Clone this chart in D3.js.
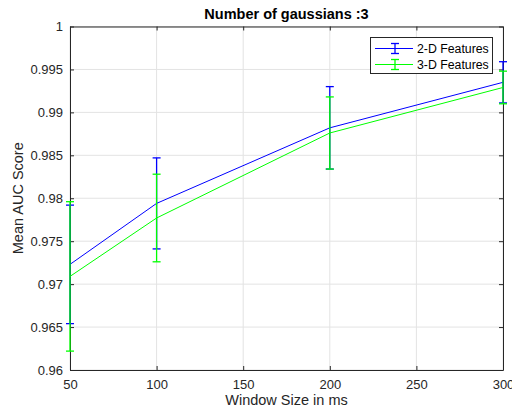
<!DOCTYPE html>
<html>
<head>
<meta charset="utf-8">
<script src="https://cdn.jsdelivr.net/npm/d3@7"></script>
<style>
  html, body { margin: 0; padding: 0; background: #fff; overflow: hidden; }
  svg { display: block; font-family: "Liberation Sans", Arial, Helvetica, sans-serif; }
</style>
</head>
<body>
<svg id="chart" width="512" height="411"></svg>
<script>
// Window sizes (ms) and mean AUC with error half-widths for each feature set
const windowSizes = [50, 100, 200, 300];
const auc2D = [0.9723, 0.9794, 0.9882, 0.9935];
const err2D = [0.0069, 0.0053, 0.0048, 0.0024];
const auc3D = [0.9709, 0.9777, 0.9876, 0.9929];
const err3D = [0.0087, 0.0051, 0.0042, 0.0019];

const xTicks = [50, 100, 150, 200, 250, 300];
const yTicks = [0.96, 0.965, 0.97, 0.975, 0.98, 0.985, 0.99, 0.995, 1];
const yTickLabels = ["0.96", "0.965", "0.97", "0.975", "0.98", "0.985", "0.99", "0.995", "1"];

const seriesNames = ["2-D Features", "3-D Features"];
const seriesColors = ["#0000ff", "#00ff00"];

const svg = d3.select("#chart");
const margin = { left: 70, right: 9, top: 26.5, bottom: 41 };
const W = 512, H = 411;
const x0 = margin.left, x1 = W - margin.right;
const y0 = H - margin.bottom, y1 = margin.top;

const x = d3.scaleLinear().domain([50, 300]).range([x0, x1]);
const y = d3.scaleLinear().domain([0.96, 1]).range([y0, y1]);

const axisColor = "#262626";
const gridColor = "#e3e3e3";

// Grid lines
const grid = svg.append("g");
grid.selectAll("line.gx").data(xTicks).join("line")
  .attr("x1", d => x(d)).attr("x2", d => x(d))
  .attr("y1", y0).attr("y2", y1)
  .attr("stroke", gridColor).attr("stroke-width", 1);
grid.selectAll("line.gy").data(yTicks).join("line")
  .attr("x1", x0).attr("x2", x1)
  .attr("y1", d => y(d)).attr("y2", d => y(d))
  .attr("stroke", gridColor).attr("stroke-width", 1);

// Axes with inward ticks
const tickLen = 4;
const xAxisB = d3.axisBottom(x).tickValues(xTicks).tickSizeInner(-tickLen).tickSizeOuter(0).tickPadding(10).tickFormat(d3.format("d"));
const xAxisT = d3.axisTop(x).tickValues(xTicks).tickSizeInner(-tickLen).tickSizeOuter(0).tickFormat("");
const yAxisL = d3.axisLeft(y).tickValues(yTicks).tickSizeInner(-tickLen).tickSizeOuter(0).tickPadding(7)
  .tickFormat((d, i) => yTickLabels[i]);
const yAxisR = d3.axisRight(y).tickValues(yTicks).tickSizeInner(-tickLen).tickSizeOuter(0).tickFormat("");

function styleAxis(g) {
  g.select(".domain").attr("stroke", axisColor).attr("stroke-width", 1);
  g.selectAll(".tick line").attr("stroke", axisColor);
  g.selectAll(".tick text").attr("fill", axisColor).attr("font-size", 13)
    .attr("font-family", "Liberation Sans, Arial, sans-serif");
}

svg.append("g").attr("transform", `translate(0,${y0})`).call(xAxisB).call(styleAxis);
svg.append("g").attr("transform", `translate(0,${y1})`).call(xAxisT).call(styleAxis);
svg.append("g").attr("transform", `translate(${x0},0)`).call(yAxisL).call(styleAxis);
svg.append("g").attr("transform", `translate(${x1},0)`).call(yAxisR).call(styleAxis);

// Series: line plus vertical error bars with caps
const capHalf = 4;
const series = [
  { name: seriesNames[0], color: seriesColors[0], mean: auc2D, err: err2D },
  { name: seriesNames[1], color: seriesColors[1], mean: auc3D, err: err3D }
];
const line = d3.line().x(d => x(d[0])).y(d => y(d[1]));

series.forEach(s => {
  const g = svg.append("g");
  const pts = windowSizes.map((w, i) => [w, s.mean[i], s.err[i]]);
  g.append("path").datum(pts).attr("d", line)
    .attr("fill", "none").attr("stroke", s.color).attr("stroke-width", 1);
  const eb = g.selectAll("g.eb").data(pts).join("g");
  eb.append("line")
    .attr("x1", d => x(d[0])).attr("x2", d => x(d[0]))
    .attr("y1", d => y(d[1] - d[2])).attr("y2", d => y(d[1] + d[2]))
    .attr("stroke", s.color).attr("stroke-width", 1.3);
  [-1, 1].forEach(sg => {
    eb.append("line")
      .attr("x1", d => x(d[0]) - capHalf).attr("x2", d => x(d[0]) + capHalf)
      .attr("y1", d => y(d[1] + sg * d[2])).attr("y2", d => y(d[1] + sg * d[2]))
      .attr("stroke", s.color).attr("stroke-width", 1.3);
  });
});

// Title and axis labels
svg.append("text").attr("x", (x0 + x1) / 2).attr("y", 18.5)
  .attr("text-anchor", "middle").attr("font-size", 14.5).attr("font-weight", "bold")
  .attr("fill", "#000").text("Number of gaussians :3");
svg.append("text").attr("x", (x0 + x1) / 2).attr("y", 405)
  .attr("text-anchor", "middle").attr("font-size", 14.5)
  .attr("fill", axisColor).text("Window Size in ms");
svg.append("text")
  .attr("transform", `translate(22.5,${(y0 + y1) / 2}) rotate(-90)`)
  .attr("text-anchor", "middle").attr("font-size", 14.5)
  .attr("fill", axisColor).text("Mean AUC Score");

// Legend
const lg = svg.append("g");
lg.append("rect").attr("x", 370.5).attr("y", 37.5).attr("width", 122).attr("height", 36)
  .attr("fill", "#fff").attr("stroke", axisColor).attr("stroke-width", 1);
series.forEach((s, i) => {
  const ly = 48.5 + i * 16;
  lg.append("line").attr("x1", 375).attr("x2", 413).attr("y1", ly).attr("y2", ly)
    .attr("stroke", s.color).attr("stroke-width", 1);
  lg.append("line").attr("x1", 395).attr("x2", 395).attr("y1", ly - 5).attr("y2", ly + 5)
    .attr("stroke", s.color).attr("stroke-width", 1.3);
  [-5, 5].forEach(dy => {
    lg.append("line").attr("x1", 391).attr("x2", 399).attr("y1", ly + dy).attr("y2", ly + dy)
      .attr("stroke", s.color).attr("stroke-width", 1.3);
  });
  lg.append("text").attr("x", 417).attr("y", ly + 4.5).attr("font-size", 12.3)
    .attr("fill", "#000").text(s.name);
});
</script>
</body>
</html>
